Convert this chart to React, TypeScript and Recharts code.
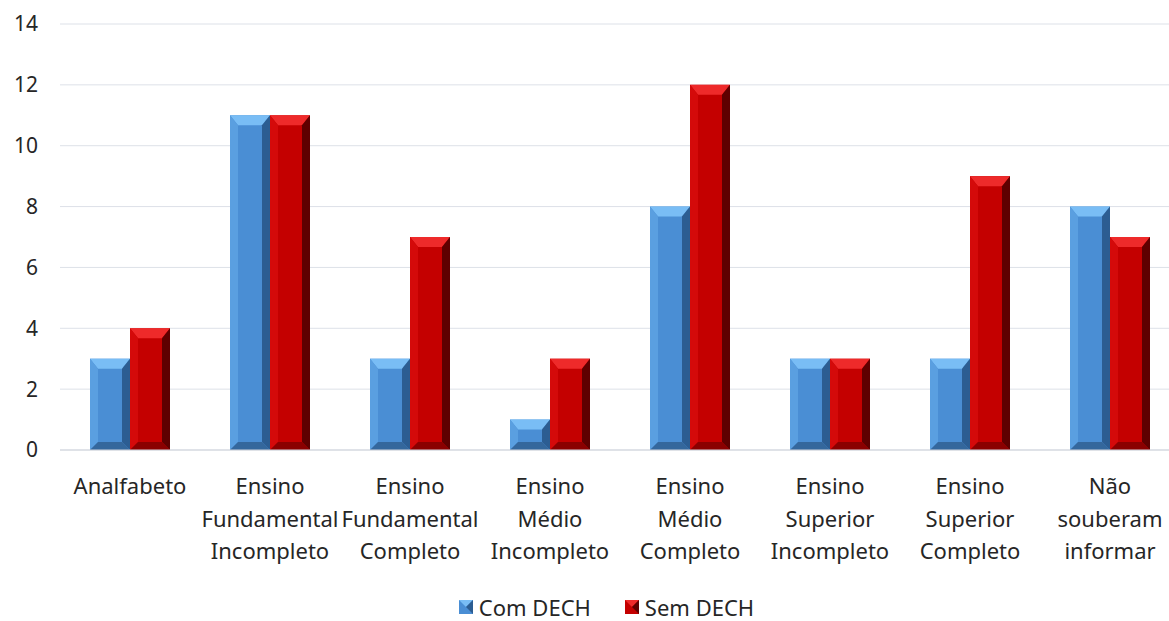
import { Bar, BarChart, CartesianGrid, Legend, XAxis, YAxis } from 'recharts';

const categories = [
  'Analfabeto',
  'Ensino Fundamental Incompleto',
  'Ensino Fundamental Completo',
  'Ensino Médio Incompleto',
  'Ensino Médio Completo',
  'Ensino Superior Incompleto',
  'Ensino Superior Completo',
  'Não souberam informar',
];
const comDech = [3, 11, 3, 1, 8, 3, 3, 8];
const semDech = [4, 11, 7, 3, 12, 3, 9, 7];
const yTicks = [0, 2, 4, 6, 8, 10, 12, 14];

const data = categories.map((name, i) => ({
  name,
  com: comDech[i],
  sem: semDech[i],
}));

const FONT = '"Noto Sans", sans-serif';

const palettes = {
  blue: { face: '#4a8ed4', top: '#79bdf5', left: '#5a9fe0', right: '#2c5d92', bottom: '#34679c' },
  red: { face: '#c40000', top: '#ee2a2a', left: '#d40a0a', right: '#5e0000', bottom: '#8a0000' },
};

function bevelShape(p: typeof palettes.blue) {
  return (props: any) => {
    const { x, y, width: w, height: h } = props;
    if (!h || h <= 0) return <g />;
    const b = Math.min(8, h / 2, w / 2);
    const bt = Math.min(10, h / 2);
    return (
      <g>
        <rect x={x} y={y} width={w} height={h} fill={p.face} />
        <polygon points={`${x},${y} ${x + w},${y} ${x + w - b},${y + bt} ${x + b},${y + bt}`} fill={p.top} />
        <polygon points={`${x},${y} ${x + b},${y + bt} ${x + b},${y + h - b} ${x},${y + h}`} fill={p.left} />
        <polygon points={`${x + w},${y} ${x + w},${y + h} ${x + w - b},${y + h - b} ${x + w - b},${y + bt}`} fill={p.right} />
        <polygon points={`${x},${y + h} ${x + b},${y + h - b} ${x + w - b},${y + h - b} ${x + w},${y + h}`} fill={p.bottom} />
      </g>
    );
  };
}

function CategoryTick(props: any) {
  const { x, y, payload } = props;
  const words = String(payload.value).split(' ');
  return (
    <text x={x} y={y} textAnchor="middle" fontFamily={FONT} fontSize={22} fill="#262626">
      {words.map((w, i) => (
        <tspan key={i} x={x} y={y + 36 + i * 32.5}>
          {w}
        </tspan>
      ))}
    </text>
  );
}

function LegendContent() {
  const items = [
    { label: 'Com DECH', p: palettes.blue },
    { label: 'Sem DECH', p: palettes.red },
  ];
  return (
    <div style={{ height: 30, display: 'flex', justifyContent: 'center', alignItems: 'center', gap: 34, paddingLeft: 44, fontFamily: FONT, fontSize: 22, color: '#262626' }}>
      {items.map((it) => (
        <div key={it.label} style={{ display: 'flex', alignItems: 'center', gap: 6 }}>
          <svg width={14} height={14}>
            <rect x={0} y={0} width={14} height={14} fill={it.p.face} />
            <polygon points="0,0 14,0 7,7" fill={it.p.top} />
            <polygon points="14,0 14,14 7,7" fill={it.p.right} />
          </svg>
          <span>{it.label}</span>
        </div>
      ))}
    </div>
  );
}

export default function App() {
  return (
    <div style={{ position: 'absolute', left: 0, top: 0, width: 1169, height: 621, overflow: 'hidden', background: '#fff' }}>
      <BarChart
        width={1180}
        height={621}
        data={data}
        margin={{ top: 24, right: 0, left: 0, bottom: 0 }}
        barCategoryGap={30}
        barGap={0}
      >
        <CartesianGrid vertical={false} stroke="#dde1e8" />
        <XAxis
          dataKey="name"
          tick={<CategoryTick />}
          tickLine={false}
          axisLine={{ stroke: '#d0d4dc' }}
          interval={0}
          height={141}
        />
        <YAxis
          domain={[0, 14]}
          ticks={yTicks}
          width={60}
          tickLine={false}
          axisLine={false}
          tickSize={0}
          tickMargin={22}
          tick={{ fontFamily: FONT, fontSize: 21, fill: '#262626' }}
        />
        <Legend
          verticalAlign="bottom"
          height={30}
          wrapperStyle={{ top: 592, bottom: 'auto', left: 0, width: 1169 }}
          content={<LegendContent />}
        />
        <Bar dataKey="com" name="Com DECH" shape={bevelShape(palettes.blue)} isAnimationActive={false} />
        <Bar dataKey="sem" name="Sem DECH" shape={bevelShape(palettes.red)} isAnimationActive={false} />
      </BarChart>
    </div>
  );
}
